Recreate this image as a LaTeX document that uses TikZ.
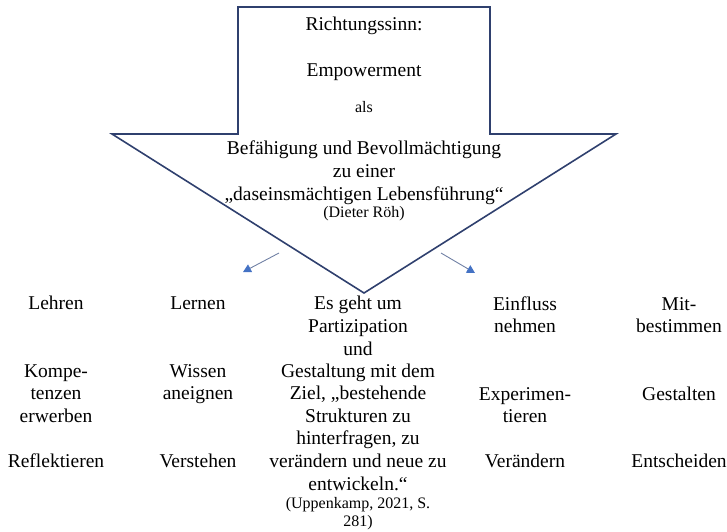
\documentclass[tikz,border=0pt]{standalone}
\usepackage{fontspec}
\setmainfont{Liberation Serif}
\usetikzlibrary{arrows.meta}
\definecolor{navy}{RGB}{47,64,110}
\definecolor{tipblue}{RGB}{68,114,196}
\definecolor{shaftgrey}{RGB}{112,128,164}
\tikzset{
  big/.style={font=\fontsize{19.5}{22}\selectfont, anchor=base, inner sep=0pt},
  small/.style={font=\fontsize{16}{18}\selectfont, anchor=base, inner sep=0pt},
  outline/.style={draw=navy, line width=1.6pt, line join=miter},
  pointer/.style={draw=shaftgrey, line width=0.9pt,
    -{Triangle[length=8pt,width=8.5pt,fill=tipblue,color=tipblue]}}
}
\begin{document}
\begin{tikzpicture}[x=1pt,y=-1pt]
\useasboundingbox (0,0) rectangle (727,531);
% big arrow
\coordinate (a1) at (238,7);
\coordinate (a2) at (490,7);
\coordinate (a3) at (490,134);
\coordinate (a4) at (616,134);
\coordinate (a5) at (364,293);
\coordinate (a6) at (112,134);
\coordinate (a7) at (238,134);
\draw[outline] (a1) -- (a2) -- (a3) -- (a4) -- (a5) -- (a6) -- (a7) -- cycle;
% texts in arrow
\node[big]   (t1) at (364,30)    {Richtungssinn:};
\node[big]   (t2) at (364,76)    {Empowerment};
\node[small] (t3) at (364,112.5) {als};
\node[big]   (t4) at (364,154)   {Befähigung und Bevollmächtigung};
\node[big]   (t5) at (364,177)   {zu einer};
\node[big]   (t6) at (364,200)   {„daseinsmächtigen Lebensführung“};
\node[small] (t7) at (364,217.5) {(Dieter Röh)};
% small pointers
\coordinate (p1s) at (279,253);
\coordinate (p1e) at (243,272);
\coordinate (p2s) at (441,253);
\coordinate (p2e) at (475,273);
\draw[pointer] (p1s) -- (p1e);
\draw[pointer] (p2s) -- (p2e);
% column 1
\node[big] (c1a) at (56,309) {Lehren};
\node[big] (c1b) at (56,377) {Kompe-};
\node[big] (c1c) at (56,399) {tenzen};
\node[big] (c1d) at (56,422) {erwerben};
\node[big] (c1e) at (56,467) {Reflektieren};
% column 2
\node[big] (c2a) at (198,309) {Lernen};
\node[big] (c2b) at (198,377) {Wissen};
\node[big] (c2c) at (198,399) {aneignen};
\node[big] (c2d) at (198,467) {Verstehen};
% column 3
\node[big] (c3a) at (358,309) {Es geht um};
\node[big] (c3b) at (358,332) {Partizipation};
\node[big] (c3c) at (358,355) {und};
\node[big] (c3d) at (358,377) {Gestaltung mit dem};
\node[big] (c3e) at (358,399) {Ziel, „bestehende};
\node[big] (c3f) at (358,422) {Strukturen zu};
\node[big] (c3g) at (358,444) {hinterfragen, zu};
\node[big] (c3h) at (358,467) {verändern und neue zu};
\node[big] (c3i) at (358,490) {entwickeln.“};
\node[small] (c3j) at (358,508.5) {(Uppenkamp, 2021, S.};
\node[small] (c3k) at (358,526.5) {281)};
% column 4
\node[big] (c4a) at (525,310) {Einfluss};
\node[big] (c4b) at (525,332) {nehmen};
\node[big] (c4c) at (525,400) {Experimen-};
\node[big] (c4d) at (525,422) {tieren};
\node[big] (c4e) at (525,467) {Verändern};
% column 5
\node[big] (c5a) at (679,310) {Mit-};
\node[big] (c5b) at (679,332) {bestimmen};
\node[big] (c5c) at (679,400) {Gestalten};
\node[big] (c5d) at (679,467) {Entscheiden};
\end{tikzpicture}
\end{document}
